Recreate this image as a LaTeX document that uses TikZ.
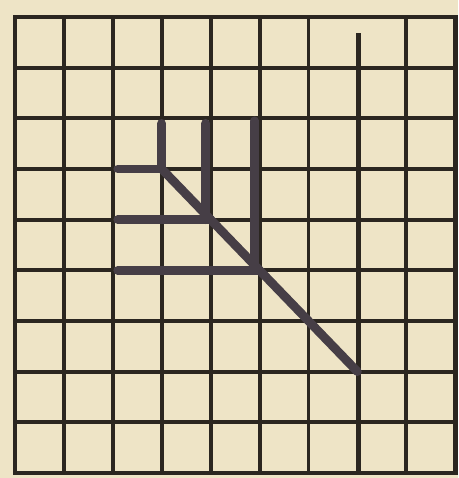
\documentclass[tikz,border=0pt]{standalone}
\usepackage{tikz}
\usepackage{xcolor}
\definecolor{paper}{HTML}{EEE4C6}
\definecolor{ink}{HTML}{2B2620}
\definecolor{pencil}{HTML}{463E46}

\begin{document}
\begin{tikzpicture}[x=0.978cm, y=1.013cm,
  gridline/.style={draw=ink, line width=2.2pt},
  border/.style={draw=ink, line width=2.8pt},
  stroke/.style={draw=pencil, line width=5pt, line cap=round},
]
  % paper
  \fill[paper] (-0.307,-0.099) rectangle (9.059,9.335);
  \useasboundingbox (-0.307,-0.099) rectangle (9.059,9.335);

  % grid
  \foreach \i in {1,...,8} {
    \draw[gridline] (0,\i) -- (9,\i);
  }
  \foreach \i in {1,...,6,8} {
    \draw[gridline] (\i,0) -- (\i,9);
  }
  \draw[gridline, line width=2.6pt] (7.02,0) -- (7.02,8.68);
  \draw[border] (0,0) rectangle (9,9);

  % branch
  \coordinate (top) at (3,6);
  \coordinate (tip) at (7,2);
  \draw[stroke] (top) -- (tip);
  \draw[stroke] (2.1,6) -- (3,6);
  \draw[stroke] (2.1,5) -- (4,5);
  \draw[stroke] (2.1,4) -- (5,4);
  \draw[stroke] (3,6.9) -- (3,6);
  \draw[stroke] (3.9,6.9) -- (3.9,5);
  \draw[stroke] (4.9,6.95) -- (4.9,4);
\end{tikzpicture}
\end{document}
